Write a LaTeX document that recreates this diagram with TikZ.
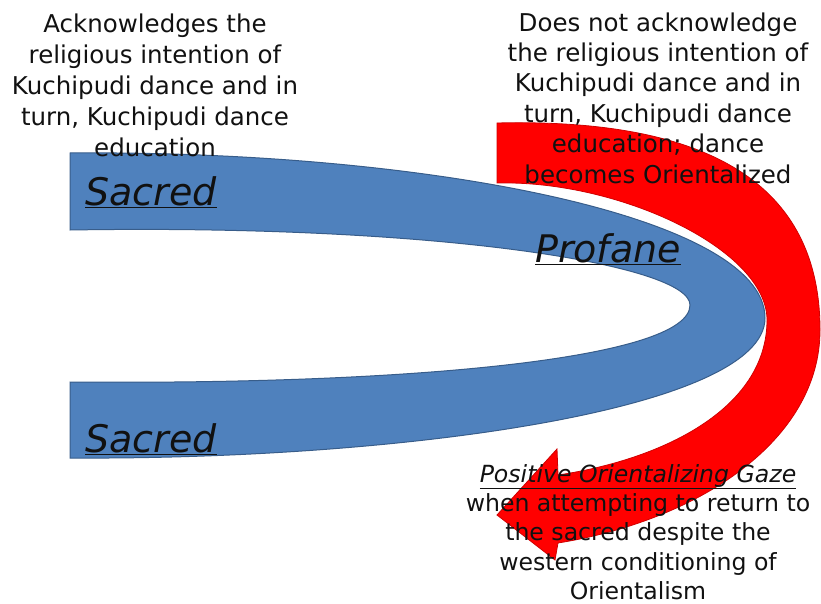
\documentclass[tikz,border=0pt]{standalone}
\usepackage{fontspec}
\setmainfont{DejaVu Sans}
\definecolor{sblue}{HTML}{4F81BD}
\definecolor{sbluedraw}{HTML}{385D8A}
\definecolor{sred}{HTML}{FF0000}
\definecolor{sreddraw}{HTML}{D00000}
\definecolor{txtc}{HTML}{111111}
\begin{document}
\begin{tikzpicture}[x=1pt,y=-1pt,
  bandblue/.style={fill=sblue,draw=sbluedraw,line width=1pt},
  bandred/.style={fill=sred,draw=sreddraw,line width=0.8pt},
  txt/.style={align=center,inner sep=0pt,text=txtc,font=\fontsize{24.5}{31}\selectfont},
  lbl/.style={inner sep=0pt,text=txtc,font=\fontsize{38}{40}\selectfont\itshape}]
\useasboundingbox (0,0) rectangle (821,604);
% red curved arrow
\path[bandred] (497,123) .. controls (710,118) and (820,185) .. (820,330)
  .. controls (820,440) and (700,520) .. (558,543)
  -- (555,560) -- (497,515) -- (557,449) -- (558,475)
  .. controls (660,460) and (767,410) .. (767,320)
  .. controls (767,250) and (620,180) .. (497,183) -- cycle;
% blue U band
\path[bandblue] (70,153) .. controls (420,150) and (765,215) .. (765,318)
  .. controls (765,410) and (400,460) .. (70,458) -- (70,382)
  .. controls (400,385) and (690,360) .. (690,305)
  .. controls (690,265) and (440,224) .. (70,230) -- cycle;
% labels
\node[lbl,anchor=base west] (sacredtop) at (85,205) {\underline{Sacred}};
\node[lbl,anchor=base west] (profane) at (535,262) {\underline{Profane}};
\node[lbl,anchor=base west] (sacredbot) at (85,452) {\underline{Sacred}};
% texts
\node[txt] (tl) at (155,85) {Acknowledges the\\religious intention of\\Kuchipudi dance and in\\turn, Kuchipudi dance\\education};
\node[txt,font=\fontsize{24.5}{30.4}\selectfont] (tr) at (658,98) {Does not acknowledge\\the religious intention of\\Kuchipudi dance and in\\turn, Kuchipudi dance\\education; dance\\becomes Orientalized};
\node[txt,font=\fontsize{23.6}{29.3}\selectfont] (br) at (638,532) {{\itshape\underline{Positive Orientalizing Gaze}}\\when attempting to return to\\the sacred despite the\\western conditioning of\\Orientalism};
\end{tikzpicture}
\end{document}
